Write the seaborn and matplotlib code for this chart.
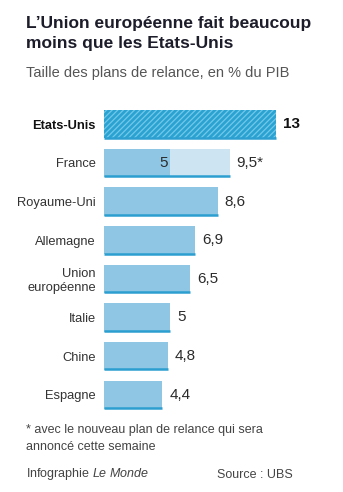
import matplotlib
matplotlib.use("Agg")
import matplotlib.pyplot as plt
import seaborn as sns
import pandas as pd
import numpy as np

categories = ["Etats-Unis", "France", "Royaume-Uni", "Allemagne",
              "Union\neuropéenne", "Italie", "Chine", "Espagne"]
values = [13, 5, 8.6, 6.9, 6.5, 5, 4.8, 4.4]
planned = [np.nan, 9.5, np.nan, np.nan, np.nan, np.nan, np.nan, np.nan]
value_labels = ["13", "5", "8,6", "6,9", "6,5", "5", "4,8", "4,4"]
planned_labels = ["", "9,5*", "", "", "", "", "", ""]

title = "L’Union européenne fait beaucoup\nmoins que les Etats-Unis"
subtitle = "Taille des plans de relance, en % du PIB"
footnote = "* avec le nouveau plan de relance qui sera\nannoncé cette semaine"
credit = r"Infographie $\mathit{Le\ Monde}$"
source = "Source : UBS"

sns.set_theme(style="white")
plt.rcParams["font.family"] = ["Liberation Sans", "DejaVu Sans"]
plt.rcParams["hatch.linewidth"] = 0.9
plt.rcParams["mathtext.fontset"] = "custom"
plt.rcParams["mathtext.rm"] = "Liberation Sans"
plt.rcParams["mathtext.it"] = "Liberation Sans:italic"

LABEL_SIZE = 9.3
VAL_SIZE = 11.0

BAR = "#8ec6e4"
LIGHT = "#cde4f2"
LINE = "#2c9fd0"
USA = "#2aa3d3"
TXT = "#2b2b2b"

df = pd.DataFrame({"cat": categories, "val": values})
dfp = pd.DataFrame({"cat": categories, "val": planned})

fig = plt.figure(figsize=(3.43, 4.92), dpi=100)
ax = fig.add_axes([104 / 343, 1 - 414 / 492, (343 - 104) / 343, 309 / 492])

H = 0.73
sns.barplot(data=dfp, x="val", y="cat", order=categories, color=LIGHT,
            width=H, ax=ax, saturation=1, linewidth=0)
sns.barplot(data=df, x="val", y="cat", order=categories, color=BAR,
            width=H, ax=ax, saturation=1, linewidth=0)

usa_patch = ax.containers[1].patches[0]
usa_patch.set_facecolor(USA)
usa_patch.set_edgecolor("#74c8e8")
usa_patch.set_linewidth(0)
usa_patch.set_hatch("//////")

px_per_unit = (343 - 104) / 18.06
ax.set_xlim(0, 18.06)
ax.set_ylim(7.5, -0.5)

for i, cat in enumerate(categories):
    total = planned[i] if not np.isnan(planned[i]) else values[i]
    ax.plot([0, total], [i + H / 2 - 0.02, i + H / 2 - 0.02], color=LINE,
            lw=1.8, solid_capstyle="butt", zorder=5)
    off = 7 / px_per_unit
    if not np.isnan(planned[i]):
        ax.text(values[i] - 0.2, i, value_labels[i], ha="right", va="center",
                fontsize=VAL_SIZE, color=TXT)
        ax.text(total + off, i, planned_labels[i], ha="left", va="center",
                fontsize=VAL_SIZE, color=TXT)
    else:
        ax.text(total + off, i, value_labels[i], ha="left", va="center",
                fontsize=VAL_SIZE, color="#111111" if i == 0 else TXT,
                fontweight="bold" if i == 0 else "normal")

ax.set_xlabel("")
ax.set_ylabel("")
ax.set_xticks([])
ax.set_yticks(range(len(categories)))
ax.set_yticklabels(categories, fontsize=LABEL_SIZE, color="#333333",
                   linespacing=1.15)
ax.get_yticklabels()[0].set_fontweight("bold")
ax.get_yticklabels()[0].set_color("#111111")
ax.tick_params(axis="y", length=0, pad=6)
for lab in ax.get_yticklabels():
    lab.set_horizontalalignment("right")
sns.despine(ax=ax, left=True, bottom=True)

fig.text(26 / 343, 1 - 16 / 492, title, ha="left", va="top", fontsize=12.5,
         fontweight="bold", color="#1c1c2a", linespacing=1.45)
fig.text(26 / 343, 1 - 73 / 492, subtitle, ha="left", va="center",
         fontsize=10.5, color="#555555")
fig.text(26 / 343, 1 - 424.5 / 492, footnote, ha="left", va="top",
         fontsize=9, color="#444444", linespacing=1.45)
ycred = 1 - 477.5 / 492
fig.text(26 / 343, ycred, credit, ha="left", va="baseline",
         fontsize=9, color="#444444")
fig.text(217 / 343, ycred, source, ha="left", va="baseline",
         fontsize=9, color="#444444")

fig.savefig("out.png", dpi=100, facecolor="white")
